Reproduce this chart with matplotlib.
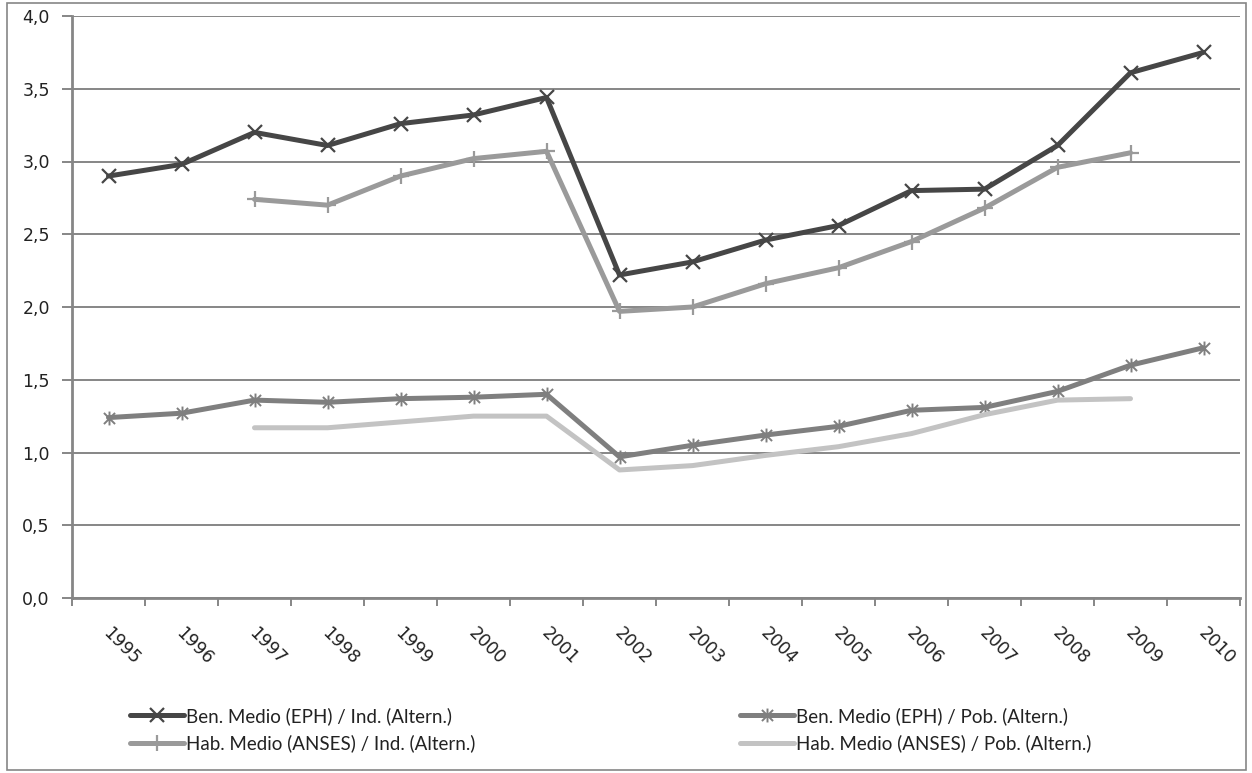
import numpy as np
import matplotlib
matplotlib.use("Agg")
import matplotlib.pyplot as plt
from matplotlib.path import Path
from matplotlib.patches import Rectangle
from matplotlib.ticker import FixedLocator, FuncFormatter, MultipleLocator
import matplotlib.transforms as mtransforms

# datos
years = [str(y) for y in range(1995, 2011)]
ben_ind = [2.90, 2.98, 3.20, 3.11, 3.26, 3.32, 3.44, 2.22, 2.31, 2.46, 2.56, 2.80, 2.81, 3.11, 3.61, 3.75]
ben_pob = [1.24, 1.27, 1.36, 1.345, 1.37, 1.38, 1.40, 0.97, 1.05, 1.12, 1.18, 1.29, 1.31, 1.42, 1.60, 1.72]
hab_ind = [np.nan, np.nan, 2.74, 2.70, 2.90, 3.02, 3.07, 1.97, 2.00, 2.16, 2.27, 2.45, 2.68, 2.96, 3.06, np.nan]
hab_pob = [np.nan, np.nan, 1.17, 1.17, 1.21, 1.25, 1.25, 0.88, 0.91, 0.98, 1.04, 1.13, 1.26, 1.36, 1.37, np.nan]

labels = ["Ben. Medio (EPH) / Ind. (Altern.)",
          "Ben. Medio (EPH) / Pob. (Altern.)",
          "Hab. Medio (ANSES) / Ind. (Altern.)",
          "Hab. Medio (ANSES) / Pob. (Altern.)"]

grid_col = "#868686"

# marcador estrella tipo Excel: X + línea vertical
star = Path([(-1, -1), (1, 1), (-1, 1), (1, -1), (0, -1.25), (0, 1.25)],
            [Path.MOVETO, Path.LINETO, Path.MOVETO, Path.LINETO, Path.MOVETO, Path.LINETO])

fig = plt.figure(figsize=(12.52, 7.73), dpi=100)
W, H = 1252, 773
ax = fig.add_axes([72 / W, 1 - 598 / H, 1168 / W, 582 / H])

x = np.arange(len(years))
common = dict(solid_capstyle="round", solid_joinstyle="round")
l1, = ax.plot(x, ben_ind, color="#464646", lw=3.6, marker="x", ms=10, mew=1.6,
              label=labels[0], **common)
l3, = ax.plot(x, hab_ind, color="#9a9a9a", lw=3.6, marker="+", ms=11, mew=1.6,
              label=labels[2], **common)
l2, = ax.plot(x, ben_pob, color="#7f7f7f", lw=3.6, marker=star, ms=10, mew=1.4,
              label=labels[1], **common)
l4, = ax.plot(x, hab_pob, color="#c3c3c3", lw=3.6, label=labels[3], **common)
for ln in (l1, l3, l2, l4):
    ln.set_zorder(3)
l1.set_zorder(5)

ax.set_ylim(0, 4.0)
ax.set_xlim(-0.5, len(years) - 0.5)
ax.yaxis.set_major_locator(MultipleLocator(0.5))
ax.yaxis.set_major_formatter(FuncFormatter(lambda v, p: f"{v:.1f}".replace(".", ",")))
ax.grid(axis="y", color=grid_col, lw=1.4)
ax.set_axisbelow(True)

for s in ("top", "right"):
    ax.spines[s].set_visible(False)
for s in ("left", "bottom"):
    ax.spines[s].set_color(grid_col)
    ax.spines[s].set_linewidth(2.0)

ax.tick_params(axis="y", direction="out", length=7, width=1.4, color=grid_col,
               pad=9, labelsize=12.5, labelcolor="#222222")

# marcas entre categorías, etiquetas centradas
ax.xaxis.set_major_locator(FixedLocator(np.arange(-0.5, len(years), 1.0)))
ax.xaxis.set_major_formatter(FuncFormatter(lambda v, p: ""))
ax.xaxis.set_minor_locator(FixedLocator(x))
ax.set_xticklabels(years, minor=True)
ax.tick_params(axis="x", which="major", direction="out", length=6, width=1.4, color=grid_col)
ax.tick_params(axis="x", which="minor", length=0, pad=19, labelsize=12.5, labelcolor="#222222")
offset = mtransforms.ScaledTranslation(13 / 100, 0, fig.dpi_scale_trans)
for lab in ax.get_xticklabels(minor=True):
    lab.set_rotation(-45)
    lab.set_ha("center")
    lab.set_va("top")
    lab.set_transform(lab.get_transform() + offset)

# leyenda en dos bloques
leg_kw = dict(frameon=False, handlelength=2.9, handletextpad=0.08, labelspacing=0.5,
              borderpad=0, borderaxespad=0, prop={"family": "Lato", "size": 13.5})
leg1 = fig.legend(handles=[l1, l3], loc="upper left",
                  bbox_to_anchor=(130 / W, 1 - 707 / H), **leg_kw)
leg2 = fig.legend(handles=[l2, l4], loc="upper left",
                  bbox_to_anchor=(740 / W, 1 - 707 / H), **leg_kw)
for leg in (leg1, leg2):
    for t in leg.get_texts():
        t.set_color("#222222")

# borde exterior
fig.patches.append(Rectangle((7 / W, 3 / H), 1239 / W, 767 / H, transform=fig.transFigure,
                             fill=False, edgecolor=grid_col, lw=1.2))

fig.savefig("out.png", dpi=100)
